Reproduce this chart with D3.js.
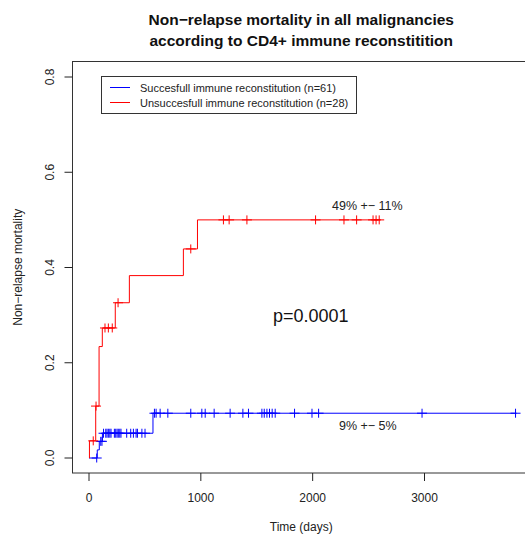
<!DOCTYPE html>
<html>
<head>
<meta charset="utf-8">
<script src="https://cdn.jsdelivr.net/npm/d3@7"></script>
<style>
  body { margin: 0; background: #fff; }
  svg { display: block; font-family: "Liberation Sans", Arial, sans-serif; }
</style>
</head>
<body>
<div id="chart"></div>
<script>
// Cumulative incidence of non-relapse mortality

// Unsuccessful reconstitution (red)
const redEventTimes = [4, 60, 90, 119, 235, 361, 844, 970];
const redEventValues = [0.036, 0.109, 0.234, 0.273, 0.326, 0.383, 0.439, 0.500];
const redEndTime = 2600;
const redCensorTimes = [38, 63, 143, 173, 208, 260, 910, 1202, 1253, 1412, 2026, 2280, 2393, 2540, 2567, 2595];

// Successful reconstitution (blue)
const blueEventTimes = [74, 92, 120, 572];
const blueEventValues = [0.017, 0.035, 0.052, 0.094];
const blueEndTime = 3823;
const blueCensorTimes = [69, 105, 116, 130, 150, 161, 173, 186, 197, 227, 239, 251, 262, 275, 286, 337, 373,
    397, 421, 433, 473, 501, 585, 600, 636, 705, 910, 1009, 1039, 1119, 1262, 1376, 1426, 1546,
    1567, 1591, 1614, 1638, 1665, 1838, 1994, 2053, 2978, 3814];

const xTicks = [0, 1000, 2000, 3000];
const yTicks = [0, 0.2, 0.4, 0.6, 0.8];

const series = [
    { name: 'Succesfull immune reconstitution (n=61)', color: '#0000ff',
      times: blueEventTimes, values: blueEventValues, end: blueEndTime, censor: blueCensorTimes },
    { name: 'Unsuccesfull immune reconstitution (n=28)', color: '#ff0000',
      times: redEventTimes, values: redEventValues, end: redEndTime, censor: redCensorTimes }
];

const width = 525, height = 535;
const frame = { left: 72.5, right: 530, top: 61.5, bottom: 473 };

const svg = d3.select('#chart').append('svg')
    .attr('width', width)
    .attr('height', height);

const x = d3.scaleLinear().domain([0, 3000]).range([89, 424.5]);
const y = d3.scaleLinear().domain([0, 0.8]).range([458, 77]);

// step value at time t
function valueAt(s, t) {
    let v = 0;
    s.times.forEach((tt, i) => { if (tt <= t) v = s.values[i]; });
    return v;
}

function stepPoints(s) {
    const pts = [[0, 0]];
    s.times.forEach((t, i) => pts.push([t, s.values[i]]));
    pts.push([s.end, s.values[s.values.length - 1]]);
    return pts;
}

const line = d3.line()
    .x(d => x(d[0]))
    .y(d => y(d[1]))
    .curve(d3.curveStepAfter);

series.forEach(s => {
    svg.append('path')
        .attr('d', line(stepPoints(s)))
        .attr('fill', 'none')
        .attr('stroke', s.color)
        .attr('stroke-width', 1);

    const marks = svg.append('g')
        .attr('stroke', s.color)
        .attr('stroke-width', 1);

    s.censor.forEach(t => {
        const cx = x(t), cy = y(valueAt(s, t));
        marks.append('line')
            .attr('x1', cx).attr('x2', cx)
            .attr('y1', cy - 4.5).attr('y2', cy + 4.5);
        marks.append('line')
            .attr('x1', cx - 5).attr('x2', cx + 5)
            .attr('y1', cy).attr('y2', cy);
    });
});

// Frame
svg.append('rect')
    .attr('x', frame.left)
    .attr('y', frame.top)
    .attr('width', frame.right - frame.left)
    .attr('height', frame.bottom - frame.top)
    .attr('fill', 'none')
    .attr('stroke', '#333')
    .attr('stroke-width', 1);

// X axis
const xAxis = svg.append('g');
xTicks.forEach(t => {
    xAxis.append('line')
        .attr('x1', x(t)).attr('x2', x(t))
        .attr('y1', frame.bottom).attr('y2', frame.bottom + 8)
        .attr('stroke', '#222');
    xAxis.append('text')
        .attr('x', x(t))
        .attr('y', 502)
        .attr('text-anchor', 'middle')
        .attr('font-size', '12px')
        .attr('fill', '#222')
        .text(t);
});

// Y axis
const yAxis = svg.append('g');
yTicks.forEach(t => {
    yAxis.append('line')
        .attr('x1', frame.left - 8).attr('x2', frame.left)
        .attr('y1', y(t)).attr('y2', y(t))
        .attr('stroke', '#222');
    yAxis.append('text')
        .attr('transform', `translate(54,${y(t)}) rotate(-90)`)
        .attr('text-anchor', 'middle')
        .attr('font-size', '12px')
        .attr('fill', '#222')
        .text(t.toFixed(1));
});

// Axis titles
svg.append('text')
    .attr('x', (frame.left + frame.right) / 2)
    .attr('y', 531)
    .attr('text-anchor', 'middle')
    .attr('font-size', '12px')
    .attr('fill', '#222')
    .text('Time (days)');

svg.append('text')
    .attr('transform', `translate(22,${(frame.top + frame.bottom) / 2}) rotate(-90)`)
    .attr('text-anchor', 'middle')
    .attr('font-size', '12px')
    .attr('fill', '#222')
    .text('Non\u2212relapse mortality');

// Title
const title = svg.append('text')
    .attr('text-anchor', 'middle')
    .attr('font-size', '15.5px')
    .attr('font-weight', 'bold')
    .attr('fill', '#111');
title.append('tspan')
    .attr('x', (frame.left + frame.right) / 2).attr('y', 25)
    .text('Non\u2212relapse mortality in all malignancies');
title.append('tspan')
    .attr('x', (frame.left + frame.right) / 2).attr('y', 46)
    .text('according to CD4+ immune reconstitition');

// Annotations
svg.append('text')
    .attr('x', 332).attr('y', 210)
    .attr('font-size', '12.5px').attr('fill', '#222')
    .text('49% +\u2212 11%');

svg.append('text')
    .attr('x', 339).attr('y', 430)
    .attr('font-size', '12.5px').attr('fill', '#222')
    .text('9% +\u2212 5%');

svg.append('text')
    .attr('x', 273).attr('y', 322)
    .attr('font-size', '18px').attr('fill', '#111')
    .text('p=0.0001');

// Legend
const legend = svg.append('g');
legend.append('rect')
    .attr('x', 101.5).attr('y', 76.5)
    .attr('width', 255).attr('height', 37)
    .attr('fill', '#fff')
    .attr('stroke', '#333');

series.forEach((s, i) => {
    const ly = 87.5 + i * 15;
    legend.append('line')
        .attr('x1', 110).attr('x2', 130)
        .attr('y1', ly).attr('y2', ly)
        .attr('stroke', s.color);
    legend.append('text')
        .attr('x', 140).attr('y', ly + 4)
        .attr('font-size', '11px')
        .attr('fill', '#222')
        .text(s.name);
});
</script>
</body>
</html>
